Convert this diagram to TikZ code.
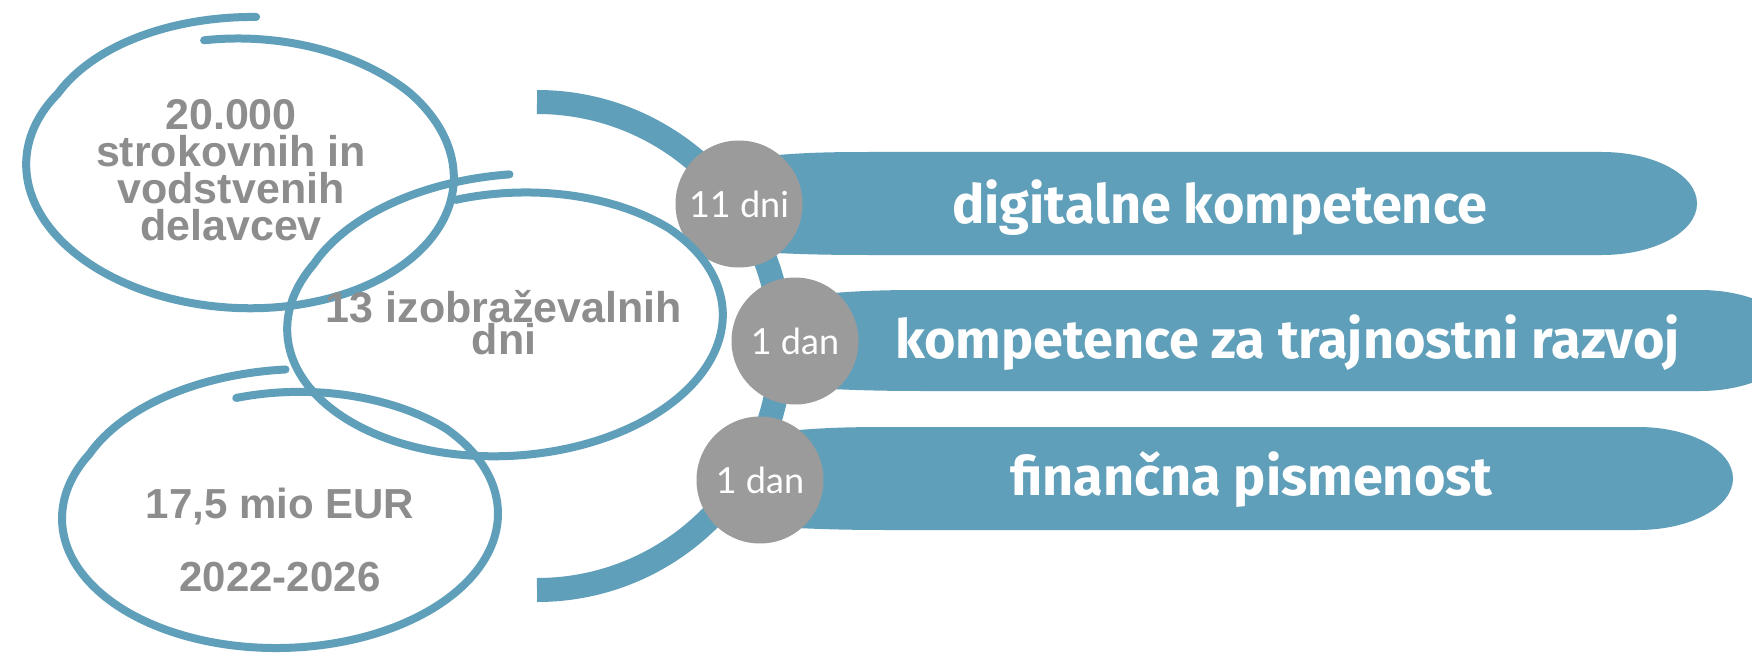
\documentclass[tikz,border=0pt]{standalone}
\usepackage{fontspec}
\newfontfamily\grayfont{Liberation Sans}
\newfontfamily\pillfont{Fira Sans}
\newfontfamily\circfont{Lato}
\definecolor{tealblue}{RGB}{96,159,186}
\definecolor{dotgray}{RGB}{155,155,155}
\definecolor{txtgray}{RGB}{141,141,141}
\setlength{\lineskiplimit}{-100pt}
\newcommand\handell[9]{%
  \begin{scope}[shift={(#1,#2)},rotate=#5]
    \draw[ellstroke] plot[domain=0:1,samples=181,smooth,variable=\t]
      ({#3*(1+(#8-1)*max(0,1-6*\t)+(#9-1)*max(0,6*\t-5))*cos(#6+#7*\t)},
       {#4*(1+(#8-1)*max(0,1-6*\t)+(#9-1)*max(0,6*\t-5))*sin(#6+#7*\t)});
  \end{scope}}
\newcommand\drawpill[4]{%
  \fill[tealblue] (#1,{#2+7}) .. controls ({#1+50},{#2+1}) and ({#1+80},#2) .. ({#1+130},#2)
    -- ({#4-95},#2)
    .. controls ({#4-95+0.552*95},#2) and (#4,{(#2+#3)/2-0.552*(#3-#2)/2}) .. (#4,{(#2+#3)/2})
    .. controls (#4,{(#2+#3)/2+0.552*(#3-#2)/2}) and ({#4-95+0.552*95},#3) .. ({#4-95},#3)
    -- ({#1+130},#3) .. controls ({#1+80},#3) and ({#1+50},{#3-1}) .. (#1,{#3-4}) -- cycle;}
\tikzset{
  ellstroke/.style={draw=tealblue,line width=8pt,line cap=round,line join=round},
  bigarc/.style={draw=tealblue,line width=24pt,line cap=butt},
  dot/.style={circle,fill=dotgray,minimum size=127pt,inner sep=0pt,text=white,
    font=\circfont\fontsize{36}{40}\selectfont},
  pilltext/.style={text=white,inner sep=0pt,font=\pillfont\bfseries\fontsize{54}{60}\selectfont},
  graytext/.style={text=txtgray,inner sep=0pt,align=center},
}
\begin{document}
\begin{tikzpicture}[x=1pt,y=-1pt]
\useasboundingbox[fill=white] (0,0) rectangle (1752,655);
% big arc
\draw[bigarc] (537,102) .. controls (671.8,102) and (781,211.2) .. (781,346)
  .. controls (781,480.8) and (671.8,590) .. (537,590);
% pills
\drawpill{739}{152}{255}{1697}
\drawpill{795}{290}{391}{1795}
\drawpill{760}{427}{530}{1733}
% circles
\node[dot] (c1) at (739,204) {11 dni};
\node[dot] (c2) at (795,341) {1 dan};
\node[dot] (c3) at (760,480) {1 dan};
% pill texts
\node[pilltext,anchor=base west] (p1) at (952,223) {digitalne kompetence};
\node[pilltext,anchor=base west] (p2) at (895,358) {kompetence za trajnostni razvoj};
\node[pilltext,anchor=base west] (p3) at (1010,495) {finančna pismenost};
% hand-drawn ellipses
\handell{240}{171}{214}{137}{-3}{-102}{374}{0.96}{1.13}
\handell{505}{322}{218}{134}{3}{-102}{375}{0.95}{1.10}
\handell{280}{516}{218}{132}{1}{-102}{374}{0.92}{1.11}
% ellipse texts
\node[graytext,font=\grayfont\bfseries\fontsize{43}{37}\selectfont] (e1) at (231,170)
  {20.000\\strokovnih in\\vodstvenih\\delavcev};
\node[graytext,font=\grayfont\bfseries\fontsize{43}{32}\selectfont] (e2) at (504,323)
  {13 izobraževalnih\\dni};
\node[graytext,font=\grayfont\bfseries\fontsize{42}{73}\selectfont] (e3) at (280,540)
  {17,5 mio EUR\\2022-2026};
\end{tikzpicture}
\end{document}
